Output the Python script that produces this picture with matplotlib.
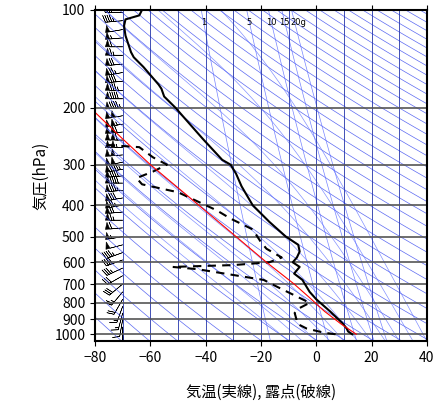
import numpy as np
import matplotlib.pyplot as plt
from matplotlib.ticker import FixedLocator, NullLocator

plt.rcParams['font.family'] = ['Noto Sans CJK JP', 'DejaVu Sans']

# temperature profile (hPa, degC)
t_p = [100, 104, 107, 112, 120, 135, 140, 150, 170, 175, 185, 200, 250, 290, 300, 320, 350,
       400, 450, 500, 530, 556, 580, 600, 620, 650, 680, 740, 780, 850, 925, 960, 980, 1000]
t_val = [-63, -64, -69, -69.5, -69, -67, -66, -62.5, -57, -56, -55, -51, -41, -34, -31, -29, -27,
         -23, -17, -11, -6.5, -6, -7, -8.5, -6, -8, -5, -2.4, 0, 5, 9.5, 11, 11.5, 13]

# dew point profile
td_p = [1000, 990, 960, 930, 860, 830, 800, 715, 680, 630, 620, 612, 600, 580, 545, 520, 475,
        440, 415, 365, 345, 330, 315, 300, 285, 265, 260]
td_val = [7, 3, -3.5, -6.7, -7.8, -6, -2.4, -14, -19, -43, -52, -30, -17, -12.5, -18, -20, -23,
          -31, -36, -50, -63, -65, -59, -54, -59, -64, -78]

# parcel path
pc_p = [1000, 930, 850, 770, 700, 600, 500, 400, 300, 250, 207]
pc_val = [14.5, 9, 3, -2.5, -8, -18, -29, -42.5, -60, -70, -80]

# wind (hPa, knots, direction deg)
w_p = [102, 108, 115, 122, 130, 138, 147, 156, 166, 177, 188, 200, 212, 225, 238, 252, 266,
       280, 295, 310, 325, 342, 360, 380, 400, 420, 445, 470, 500, 530, 560, 590, 625,
       660, 700, 740, 780, 820, 860, 900, 950, 1000]
w_spd = [40, 45, 50, 55, 60, 65, 70, 75, 80, 85, 90, 95, 100, 105, 110, 110, 105,
         100, 100, 95, 90, 90, 85, 80, 75, 70, 65, 60, 55, 50, 45, 40, 35,
         30, 30, 25, 20, 15, 15, 10, 10, 5]
w_dir = [270, 265, 260, 265, 270, 270, 265, 260, 265, 270, 270, 265, 260, 260, 265, 270, 270,
         265, 260, 260, 265, 270, 265, 260, 260, 265, 270, 265, 260, 255, 250, 250, 245,
         240, 230, 220, 210, 200, 195, 190, 180, 170]

p_lev = [100, 200, 300, 400, 500, 600, 700, 800, 900, 1000]

fig = plt.figure(figsize=(4.36, 4.11), dpi=100)
ax = fig.add_axes([0.218, 0.170, 0.761, 0.806])
ax.set_yscale('log')
ax.set_ylim(1050, 100)
ax.set_xlim(-80, 40)

pp = np.logspace(np.log10(100), np.log10(1050), 80)
# dry adiabats
for th in range(200, 620, 10):
    ax.plot(th * (pp / 1000) ** 0.286 - 273.15, pp, color='#3344ee', lw=0.5, alpha=0.8)
# mixing ratio lines
for w in [1, 5, 10, 15, 20]:
    e = w * pp / (622 + w)
    td = 243.5 * np.log(e / 6.112) / (17.67 - np.log(e / 6.112))
    ax.plot(td, pp, color='#5566ff', lw=0.5, alpha=0.8)
    ax.text(np.interp(109, pp, td) - (1.5 if w == 20 else 0), 111, f'{w}g' if w == 20 else str(w),
            fontsize=6, ha='left' if w == 20 else 'center', family='DejaVu Sans')
# moist adiabats (simple integration)
for t0 in range(-10, 45, 5):
    T = t0 + 273.15
    ps = np.linspace(1050, 100, 300)
    ts = []
    for i, p in enumerate(ps):
        ts.append(T)
        if i + 1 < len(ps):
            es = 6.112 * np.exp(17.67 * (T - 273.15) / (T - 29.65))
            rs = 0.622 * es / (p - es)
            g = (287 * T + 2.5e6 * rs) / (1004 + 2.5e6 ** 2 * rs * 0.622 / (287 * T * T)) / p
            T += g * (ps[i + 1] - p)
    ax.plot(np.array(ts) - 273.15, ps, color='#6677ff', lw=0.5, alpha=0.8)
for x in range(-80, 41, 10):
    ax.axvline(x, color='#2233aa', lw=0.6)
for p in p_lev:
    ax.axhline(p, color='#555555', lw=1.2)

ax.plot(t_val, t_p, color='black', lw=1.5)
ax.plot(td_val, td_p, color='black', lw=1.5, ls=(0, (4, 3)))
ax.plot(pc_val, pc_p, color='red', lw=0.8)

d = np.deg2rad(w_dir)
u = -np.array(w_spd) * np.sin(d)
v = -np.array(w_spd) * np.cos(d)
ax.barbs(np.full(len(w_p), -70.0), w_p, u, v, length=5, lw=0.4, color='black')

ax.yaxis.set_major_locator(FixedLocator(p_lev))
ax.yaxis.set_minor_locator(NullLocator())
ax.set_yticklabels([str(p) for p in p_lev])
ax.set_xticks(range(-80, 41, 20))
ax.tick_params(labelsize=10, top=True, direction='out')
for s in ax.spines.values():
    s.set_linewidth(1.5)
ax.set_ylabel('気圧(hPa)', fontsize=11)
ax.set_xlabel('気温(実線), 露点(破線)', fontsize=11, labelpad=14)
fig.savefig('out.png', dpi=100)
